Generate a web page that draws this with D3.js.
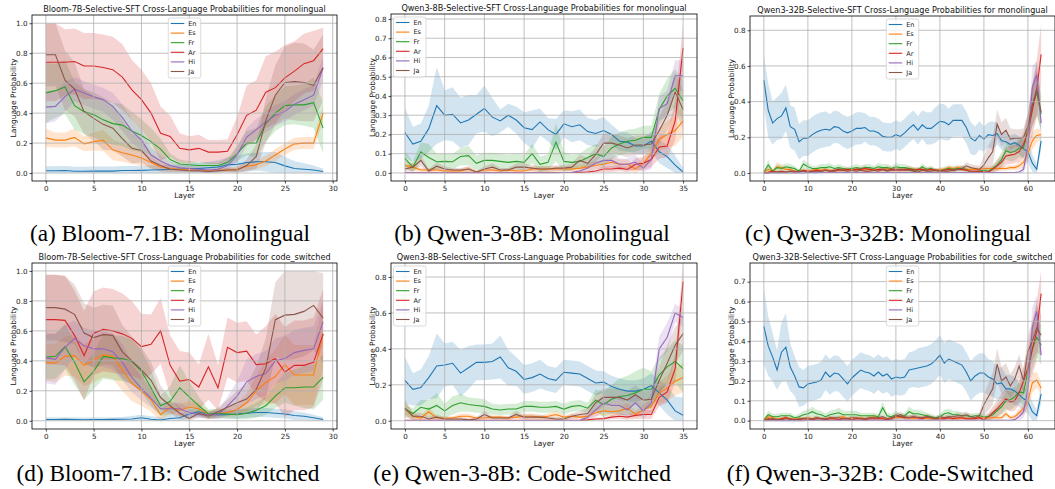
<!DOCTYPE html>
<html><head><meta charset="utf-8">
<script src="https://cdn.jsdelivr.net/npm/d3@7"></script>
<style>body{margin:0;background:#fff;} svg{display:block;}</style>
</head><body>
<script>
// Languages and matplotlib tab10 colours
const languages = ["En", "Es", "Fr", "Ar", "Hi", "Ja"];
const colors = ["#1f77b4", "#ff7f0e", "#2ca02c", "#d62728", "#9467bd", "#8c564b"];

/* ---------- (a) Bloom monolingual, layers 0..29 ---------- */
const bloomMono = [
  [0.015,0.015,0.017,0.012,0.012,0.014,0.013,0.013,0.017,0.017,0.018,0.02,0.022,0.025,0.025,0.03,0.03,0.035,0.04,0.055,0.058,0.07,0.075,0.075,0.07,0.048,0.03,0.025,0.02,0.01],
  [0.235,0.22,0.22,0.238,0.195,0.21,0.218,0.155,0.135,0.12,0.1,0.07,0.04,0.03,0.025,0.02,0.02,0.015,0.02,0.02,0.025,0.045,0.055,0.08,0.12,0.16,0.195,0.2,0.2,0.4],
  [0.535,0.55,0.575,0.45,0.41,0.39,0.355,0.33,0.32,0.28,0.25,0.21,0.16,0.09,0.06,0.055,0.05,0.05,0.05,0.07,0.13,0.2,0.2,0.33,0.4,0.45,0.455,0.455,0.47,0.3],
  [0.74,0.74,0.74,0.745,0.715,0.715,0.705,0.69,0.64,0.555,0.49,0.4,0.265,0.245,0.165,0.155,0.165,0.14,0.14,0.145,0.255,0.385,0.42,0.54,0.57,0.635,0.68,0.73,0.75,0.83],
  [0.44,0.445,0.51,0.56,0.535,0.51,0.49,0.445,0.37,0.28,0.22,0.12,0.08,0.05,0.035,0.03,0.025,0.02,0.025,0.05,0.12,0.24,0.29,0.34,0.385,0.41,0.46,0.49,0.52,0.7],
  [0.79,0.79,0.62,0.56,0.41,0.365,0.325,0.3,0.23,0.165,0.15,0.08,0.05,0.025,0.02,0.015,0.015,0.01,0.015,0.02,0.02,0.05,0.11,0.35,0.52,0.605,0.61,0.605,0.585,0.705]
];
const bloomMonoSd = [
  [0.03,0.03,0.03,0.03,0.03,0.03,0.03,0.03,0.03,0.03,0.03,0.03,0.03,0.03,0.03,0.035,0.04,0.04,0.045,0.05,0.06,0.06,0.06,0.065,0.07,0.06,0.05,0.04,0.03,0.02],
  [0.06,0.05,0.05,0.06,0.05,0.06,0.07,0.07,0.06,0.06,0.05,0.04,0.03,0.02,0.015,0.015,0.015,0.01,0.015,0.015,0.02,0.025,0.03,0.035,0.04,0.04,0.04,0.04,0.04,0.05],
  [0.2,0.18,0.18,0.16,0.15,0.15,0.15,0.14,0.14,0.13,0.11,0.09,0.07,0.04,0.03,0.025,0.02,0.02,0.02,0.03,0.05,0.08,0.1,0.12,0.12,0.13,0.13,0.14,0.17,0.17],
  [0.26,0.26,0.22,0.22,0.22,0.22,0.22,0.22,0.22,0.2,0.2,0.2,0.18,0.14,0.1,0.09,0.09,0.08,0.08,0.08,0.12,0.2,0.2,0.24,0.24,0.22,0.2,0.2,0.2,0.14],
  [0.11,0.1,0.1,0.08,0.08,0.08,0.08,0.09,0.09,0.08,0.07,0.05,0.04,0.03,0.02,0.02,0.02,0.02,0.02,0.03,0.05,0.06,0.07,0.07,0.07,0.07,0.07,0.07,0.07,0.08],
  [0.21,0.21,0.2,0.18,0.15,0.15,0.17,0.15,0.12,0.1,0.08,0.05,0.04,0.02,0.015,0.01,0.01,0.01,0.01,0.015,0.015,0.04,0.08,0.15,0.2,0.24,0.26,0.26,0.24,0.22]
];

/* ---------- (b) Qwen3-8B monolingual, layers 0..35 ---------- */
const qwen8Mono = [
  [0.21,0.15,0.165,0.23,0.35,0.3,0.305,0.26,0.275,0.305,0.335,0.29,0.27,0.3,0.275,0.235,0.225,0.265,0.225,0.2,0.255,0.24,0.25,0.215,0.205,0.22,0.2,0.165,0.16,0.14,0.14,0.165,0.11,0.085,0.04,0.005],
  [0.04,0.03,0.015,0.015,0.015,0.01,0.01,0.01,0.02,0.005,0.015,0.015,0.01,0.015,0.01,0.01,0.02,0.02,0.02,0.02,0.02,0.02,0.025,0.03,0.04,0.045,0.055,0.045,0.045,0.02,0.05,0.1,0.175,0.2,0.22,0.27],
  [0.075,0.03,0.11,0.08,0.058,0.06,0.058,0.085,0.09,0.05,0.065,0.065,0.06,0.055,0.06,0.055,0.1,0.045,0.055,0.16,0.06,0.055,0.06,0.08,0.1,0.085,0.13,0.15,0.165,0.17,0.185,0.185,0.33,0.4,0.44,0.375],
  [0.002,0.002,0.002,0.002,0.002,0.002,0.002,0.002,0.002,0.002,0.002,0.002,0.002,0.002,0.002,0.002,0.002,0.002,0.002,0.002,0.002,0.002,0.003,0.005,0.01,0.02,0.02,0.025,0.018,0.045,0.05,0.07,0.135,0.14,0.27,0.65],
  [0.001,0.001,0.001,0.001,0.001,0.001,0.001,0.001,0.001,0.001,0.001,0.001,0.001,0.001,0.001,0.001,0.001,0.001,0.001,0.001,0.002,0.003,0.01,0.025,0.05,0.065,0.065,0.045,0.045,0.055,0.025,0.07,0.335,0.36,0.505,0.505],
  [0.02,0.03,0.065,0.01,0.035,0.02,0.015,0.015,0.02,0.005,0.02,0.03,0.015,0.015,0.03,0.03,0.025,0.02,0.02,0.025,0.025,0.03,0.065,0.05,0.095,0.155,0.155,0.145,0.13,0.145,0.145,0.15,0.22,0.3,0.42,0.33]
];
const qwen8MonoSd = [
  [0.13,0.09,0.09,0.12,0.2,0.13,0.14,0.13,0.13,0.1,0.12,0.1,0.06,0.06,0.07,0.08,0.1,0.07,0.06,0.08,0.07,0.08,0.08,0.07,0.07,0.07,0.05,0.05,0.05,0.04,0.04,0.05,0.06,0.06,0.05,0.02],
  [0.02,0.02,0.01,0.01,0.01,0.01,0.01,0.01,0.015,0.005,0.01,0.01,0.01,0.01,0.01,0.01,0.015,0.015,0.015,0.015,0.015,0.015,0.015,0.02,0.02,0.02,0.025,0.025,0.025,0.02,0.03,0.04,0.06,0.07,0.08,0.08],
  [0.04,0.03,0.05,0.07,0.04,0.04,0.04,0.045,0.05,0.04,0.04,0.04,0.04,0.04,0.04,0.04,0.05,0.04,0.04,0.1,0.05,0.04,0.04,0.05,0.05,0.05,0.06,0.06,0.06,0.06,0.06,0.06,0.08,0.09,0.1,0.1],
  [0.002,0.002,0.002,0.002,0.002,0.002,0.002,0.002,0.002,0.002,0.002,0.002,0.002,0.002,0.002,0.002,0.002,0.002,0.002,0.002,0.002,0.002,0.003,0.005,0.008,0.015,0.015,0.015,0.015,0.03,0.035,0.04,0.06,0.06,0.1,0.12],
  [0.002,0.002,0.002,0.002,0.002,0.002,0.002,0.002,0.002,0.002,0.002,0.002,0.002,0.002,0.002,0.002,0.002,0.002,0.002,0.002,0.002,0.002,0.01,0.02,0.03,0.04,0.04,0.03,0.03,0.04,0.02,0.05,0.06,0.07,0.08,0.08],
  [0.015,0.02,0.03,0.01,0.02,0.015,0.01,0.01,0.015,0.005,0.015,0.02,0.01,0.01,0.02,0.02,0.015,0.015,0.015,0.015,0.015,0.02,0.03,0.03,0.04,0.05,0.05,0.05,0.05,0.05,0.05,0.05,0.07,0.08,0.1,0.1]
];

/* ---------- (c) Qwen3-32B monolingual, layers 0..63 ---------- */
const qwen32Mono = [
  [0.52,0.35,0.28,0.305,0.32,0.365,0.26,0.245,0.175,0.195,0.195,0.215,0.23,0.24,0.245,0.24,0.26,0.255,0.235,0.225,0.235,0.25,0.25,0.255,0.235,0.235,0.225,0.205,0.2,0.2,0.215,0.205,0.225,0.25,0.27,0.24,0.27,0.25,0.25,0.27,0.29,0.285,0.27,0.295,0.295,0.295,0.255,0.195,0.18,0.21,0.19,0.215,0.21,0.22,0.18,0.175,0.16,0.17,0.155,0.135,0.12,0.055,0.02,0.18],
  [0.005,0.02,0.01,0.035,0.03,0.02,0.02,0.01,0.01,0.015,0.01,0.015,0.02,0.015,0.02,0.015,0.01,0.015,0.02,0.015,0.02,0.015,0.02,0.015,0.02,0.02,0.015,0.02,0.025,0.02,0.015,0.02,0.02,0.025,0.02,0.02,0.015,0.02,0.02,0.015,0.02,0.02,0.03,0.025,0.03,0.025,0.02,0.02,0.02,0.02,0.025,0.025,0.025,0.025,0.025,0.025,0.03,0.03,0.04,0.06,0.11,0.18,0.21,0.215],
  [0.005,0.045,0.01,0.03,0.025,0.035,0.03,0.025,0.01,0.05,0.035,0.025,0.025,0.03,0.03,0.035,0.025,0.03,0.025,0.02,0.025,0.03,0.025,0.03,0.03,0.025,0.035,0.03,0.03,0.025,0.035,0.03,0.03,0.025,0.02,0.015,0.035,0.02,0.025,0.015,0.01,0.02,0.025,0.02,0.025,0.025,0.02,0.005,0.005,0.01,0.015,0.01,0.025,0.045,0.075,0.125,0.115,0.12,0.14,0.14,0.25,0.38,0.45,0.33],
  [0.0,0.005,0.01,0.005,0.01,0.005,0.01,0.01,0.005,0.015,0.01,0.01,0.015,0.01,0.015,0.01,0.015,0.02,0.015,0.02,0.015,0.02,0.02,0.025,0.02,0.015,0.02,0.02,0.015,0.02,0.02,0.015,0.02,0.02,0.015,0.02,0.02,0.015,0.02,0.015,0.01,0.015,0.02,0.015,0.02,0.02,0.015,0.01,0.01,0.01,0.005,0.005,0.02,0.04,0.06,0.095,0.1,0.105,0.12,0.16,0.23,0.35,0.47,0.665],
  [0,0,0,0,0,0,0,0,0,0,0.002,0.002,0.002,0.003,0.003,0.003,0.003,0.003,0.003,0.003,0.003,0.003,0.003,0.003,0.003,0.003,0.003,0.003,0.003,0.003,0.003,0.003,0.003,0.003,0.003,0.003,0.003,0.003,0.003,0.003,0.003,0.003,0.003,0.003,0.003,0.003,0.003,0.003,0.003,0.003,0.003,0.003,0.003,0.003,0.003,0.003,0.003,0.003,0.005,0.02,0.15,0.48,0.55,0.28],
  [0.0,0.0,0.005,0.005,0.005,0.005,0.01,0.005,0.01,0.01,0.005,0.01,0.01,0.01,0.015,0.01,0.01,0.015,0.015,0.01,0.015,0.01,0.015,0.01,0.01,0.015,0.01,0.02,0.01,0.015,0.015,0.02,0.015,0.015,0.01,0.005,0.015,0.01,0.01,0.015,0.015,0.01,0.01,0.015,0.02,0.025,0.04,0.03,0.025,0.02,0.045,0.085,0.12,0.275,0.215,0.24,0.19,0.195,0.195,0.2,0.26,0.38,0.47,0.34]
];
const qwen32MonoSd = [
  [0.14,0.15,0.12,0.12,0.13,0.13,0.12,0.12,0.1,0.1,0.1,0.1,0.1,0.1,0.1,0.09,0.09,0.09,0.09,0.09,0.09,0.09,0.09,0.08,0.08,0.08,0.08,0.08,0.08,0.08,0.08,0.08,0.08,0.08,0.08,0.08,0.08,0.09,0.09,0.1,0.1,0.1,0.09,0.09,0.09,0.09,0.09,0.09,0.08,0.08,0.07,0.07,0.08,0.06,0.05,0.05,0.05,0.05,0.05,0.05,0.06,0.05,0.03,0.05],
  [0.005,0.015,0.01,0.025,0.02,0.015,0.015,0.01,0.01,0.01,0.01,0.01,0.012,0.01,0.012,0.01,0.01,0.01,0.012,0.01,0.012,0.01,0.012,0.01,0.012,0.012,0.01,0.012,0.015,0.012,0.01,0.012,0.012,0.015,0.012,0.012,0.01,0.012,0.012,0.01,0.012,0.012,0.015,0.015,0.015,0.015,0.012,0.012,0.012,0.012,0.012,0.012,0.012,0.012,0.012,0.012,0.015,0.015,0.02,0.03,0.04,0.05,0.04,0.03],
  [0.005,0.03,0.01,0.02,0.015,0.02,0.02,0.015,0.01,0.025,0.02,0.015,0.015,0.02,0.02,0.02,0.015,0.02,0.015,0.015,0.015,0.02,0.015,0.02,0.02,0.015,0.02,0.02,0.02,0.015,0.02,0.02,0.02,0.015,0.015,0.01,0.02,0.015,0.015,0.01,0.01,0.015,0.015,0.015,0.015,0.015,0.015,0.005,0.005,0.01,0.01,0.01,0.02,0.03,0.04,0.05,0.05,0.05,0.05,0.06,0.08,0.12,0.12,0.1],
  [0.002,0.005,0.008,0.005,0.008,0.005,0.008,0.008,0.005,0.01,0.008,0.008,0.01,0.008,0.01,0.008,0.01,0.012,0.01,0.012,0.01,0.012,0.012,0.015,0.012,0.01,0.012,0.012,0.01,0.012,0.012,0.01,0.012,0.012,0.01,0.012,0.012,0.01,0.012,0.01,0.008,0.01,0.012,0.01,0.012,0.012,0.01,0.008,0.008,0.008,0.005,0.005,0.02,0.03,0.04,0.05,0.05,0.05,0.06,0.07,0.1,0.14,0.16,0.17],
  [0.002,0.002,0.002,0.002,0.002,0.002,0.002,0.002,0.002,0.002,0.002,0.002,0.002,0.003,0.003,0.003,0.003,0.003,0.003,0.003,0.003,0.003,0.003,0.003,0.003,0.003,0.003,0.003,0.003,0.003,0.003,0.003,0.003,0.003,0.003,0.003,0.003,0.003,0.003,0.003,0.003,0.003,0.003,0.003,0.003,0.003,0.003,0.003,0.003,0.003,0.003,0.003,0.003,0.003,0.003,0.003,0.003,0.003,0.005,0.02,0.08,0.12,0.08,0.05],
  [0.002,0.002,0.005,0.005,0.005,0.005,0.008,0.005,0.008,0.008,0.005,0.008,0.008,0.008,0.01,0.008,0.008,0.01,0.01,0.008,0.01,0.008,0.01,0.008,0.008,0.01,0.008,0.012,0.008,0.01,0.01,0.012,0.01,0.01,0.008,0.005,0.01,0.008,0.008,0.01,0.01,0.008,0.008,0.01,0.012,0.015,0.02,0.02,0.02,0.02,0.05,0.07,0.08,0.08,0.07,0.07,0.06,0.05,0.05,0.05,0.08,0.12,0.15,0.1]
];

/* ---------- (d) Bloom code-switched, layers 0..29 ---------- */
const bloomCs = [
  [0.008,0.008,0.009,0.008,0.007,0.008,0.008,0.009,0.01,0.012,0.02,0.01,0.005,0.015,0.02,0.045,0.06,0.04,0.04,0.04,0.045,0.05,0.055,0.055,0.05,0.045,0.035,0.03,0.02,0.008],
  [0.39,0.385,0.43,0.435,0.37,0.405,0.44,0.43,0.34,0.25,0.2,0.14,0.04,0.09,0.07,0.09,0.08,0.04,0.05,0.055,0.075,0.12,0.2,0.255,0.295,0.375,0.305,0.305,0.305,0.58],
  [0.425,0.43,0.495,0.39,0.26,0.33,0.43,0.42,0.415,0.395,0.33,0.22,0.1,0.13,0.22,0.16,0.1,0.045,0.05,0.045,0.04,0.05,0.07,0.1,0.165,0.22,0.22,0.225,0.225,0.29],
  [0.675,0.675,0.67,0.57,0.435,0.585,0.61,0.6,0.58,0.55,0.495,0.51,0.6,0.37,0.265,0.275,0.225,0.36,0.22,0.49,0.455,0.465,0.375,0.38,0.415,0.325,0.37,0.37,0.39,0.58],
  [0.42,0.41,0.49,0.55,0.5,0.48,0.48,0.46,0.39,0.29,0.215,0.15,0.08,0.08,0.08,0.055,0.04,0.04,0.04,0.1,0.165,0.26,0.295,0.315,0.4,0.415,0.455,0.47,0.48,0.66],
  [0.755,0.755,0.745,0.71,0.585,0.555,0.575,0.57,0.46,0.4,0.34,0.27,0.155,0.1,0.05,0.015,0.05,0.03,0.06,0.09,0.12,0.145,0.21,0.35,0.675,0.705,0.71,0.73,0.77,0.685]
];
const bloomCsSd = [
  [0.015,0.015,0.015,0.015,0.015,0.015,0.015,0.015,0.015,0.02,0.02,0.02,0.02,0.02,0.025,0.03,0.03,0.025,0.025,0.025,0.03,0.03,0.03,0.03,0.03,0.03,0.03,0.025,0.02,0.015],
  [0.12,0.13,0.13,0.14,0.14,0.15,0.15,0.15,0.14,0.12,0.1,0.08,0.04,0.04,0.04,0.04,0.04,0.03,0.03,0.03,0.04,0.06,0.1,0.15,0.18,0.2,0.2,0.2,0.2,0.22],
  [0.15,0.15,0.15,0.15,0.12,0.12,0.15,0.15,0.15,0.15,0.14,0.12,0.07,0.1,0.15,0.1,0.06,0.03,0.03,0.03,0.03,0.04,0.05,0.06,0.08,0.1,0.12,0.14,0.15,0.15],
  [0.3,0.3,0.3,0.3,0.3,0.28,0.28,0.28,0.27,0.25,0.22,0.2,0.22,0.2,0.2,0.18,0.15,0.22,0.15,0.2,0.2,0.2,0.2,0.25,0.3,0.3,0.3,0.3,0.3,0.3],
  [0.17,0.17,0.15,0.12,0.12,0.12,0.12,0.12,0.12,0.1,0.08,0.06,0.04,0.04,0.04,0.03,0.02,0.02,0.03,0.06,0.1,0.15,0.15,0.15,0.15,0.15,0.15,0.15,0.15,0.15],
  [0.22,0.22,0.22,0.2,0.2,0.2,0.2,0.2,0.18,0.16,0.15,0.12,0.08,0.05,0.04,0.02,0.03,0.02,0.03,0.05,0.08,0.1,0.15,0.2,0.25,0.3,0.3,0.3,0.3,0.3]
];

/* ---------- (e) Qwen3-8B code-switched, layers 0..35 ---------- */
const qwen8Cs = [
  [0.225,0.175,0.185,0.24,0.305,0.31,0.32,0.265,0.295,0.325,0.325,0.33,0.355,0.295,0.275,0.23,0.24,0.26,0.235,0.225,0.27,0.265,0.26,0.235,0.21,0.215,0.19,0.175,0.165,0.165,0.175,0.195,0.155,0.115,0.055,0.03],
  [0.065,0.025,0.015,0.05,0.015,0.015,0.015,0.025,0.025,0.015,0.015,0.02,0.02,0.015,0.02,0.025,0.025,0.02,0.025,0.035,0.02,0.025,0.02,0.025,0.045,0.055,0.05,0.055,0.07,0.035,0.06,0.08,0.155,0.18,0.22,0.24],
  [0.065,0.04,0.075,0.065,0.085,0.055,0.085,0.1,0.09,0.085,0.08,0.065,0.06,0.065,0.065,0.08,0.08,0.075,0.075,0.08,0.065,0.08,0.085,0.07,0.115,0.09,0.12,0.135,0.14,0.155,0.175,0.175,0.255,0.3,0.33,0.29],
  [0.002,0.002,0.002,0.002,0.002,0.002,0.002,0.002,0.002,0.002,0.002,0.002,0.002,0.002,0.002,0.002,0.002,0.002,0.002,0.002,0.002,0.002,0.002,0.005,0.01,0.012,0.02,0.025,0.02,0.03,0.035,0.035,0.13,0.16,0.29,0.775],
  [0.001,0.001,0.001,0.001,0.001,0.001,0.001,0.001,0.001,0.001,0.001,0.001,0.001,0.001,0.001,0.001,0.001,0.001,0.001,0.001,0.001,0.001,0.002,0.02,0.06,0.1,0.085,0.085,0.06,0.1,0.055,0.1,0.4,0.465,0.6,0.575],
  [0.07,0.025,0.025,0.01,0.02,0.01,0.01,0.01,0.005,0.01,0.035,0.015,0.015,0.015,0.035,0.02,0.02,0.02,0.015,0.01,0.01,0.025,0.035,0.04,0.1,0.13,0.13,0.13,0.115,0.145,0.115,0.12,0.225,0.32,0.42,0.485]
];
const qwen8CsSd = [
  [0.13,0.09,0.1,0.12,0.18,0.12,0.12,0.13,0.12,0.1,0.1,0.1,0.12,0.1,0.08,0.08,0.08,0.08,0.07,0.07,0.07,0.07,0.07,0.07,0.07,0.06,0.06,0.06,0.06,0.06,0.06,0.07,0.07,0.08,0.08,0.1],
  [0.04,0.02,0.01,0.03,0.01,0.01,0.01,0.015,0.015,0.01,0.01,0.01,0.01,0.01,0.01,0.015,0.015,0.01,0.015,0.02,0.01,0.015,0.01,0.015,0.02,0.025,0.025,0.025,0.03,0.02,0.03,0.04,0.06,0.07,0.08,0.08],
  [0.03,0.03,0.04,0.05,0.07,0.04,0.05,0.05,0.04,0.04,0.04,0.03,0.03,0.03,0.03,0.03,0.03,0.03,0.03,0.03,0.03,0.03,0.03,0.03,0.06,0.07,0.08,0.1,0.11,0.12,0.12,0.1,0.1,0.1,0.12,0.13],
  [0.002,0.002,0.002,0.002,0.002,0.002,0.002,0.002,0.002,0.002,0.002,0.002,0.002,0.002,0.002,0.002,0.002,0.002,0.002,0.002,0.002,0.002,0.002,0.004,0.006,0.008,0.012,0.015,0.015,0.02,0.025,0.025,0.05,0.06,0.08,0.1],
  [0.002,0.002,0.002,0.002,0.002,0.002,0.002,0.002,0.002,0.002,0.002,0.002,0.002,0.002,0.002,0.002,0.002,0.002,0.002,0.002,0.002,0.002,0.002,0.02,0.04,0.05,0.05,0.05,0.04,0.05,0.04,0.05,0.07,0.08,0.05,0.05],
  [0.05,0.02,0.02,0.01,0.015,0.01,0.01,0.01,0.005,0.01,0.02,0.01,0.01,0.01,0.02,0.015,0.015,0.015,0.01,0.01,0.01,0.015,0.02,0.03,0.05,0.05,0.05,0.05,0.05,0.05,0.05,0.05,0.08,0.1,0.1,0.1]
];

/* ---------- (f) Qwen3-32B code-switched, layers 0..63 ---------- */
const qwen32Cs = [
  [0.475,0.375,0.32,0.255,0.345,0.37,0.27,0.225,0.17,0.165,0.185,0.19,0.195,0.205,0.245,0.22,0.24,0.235,0.21,0.185,0.215,0.235,0.255,0.245,0.24,0.225,0.245,0.225,0.235,0.21,0.22,0.215,0.22,0.255,0.26,0.265,0.27,0.275,0.285,0.305,0.33,0.29,0.31,0.3,0.29,0.28,0.245,0.2,0.225,0.24,0.24,0.22,0.21,0.185,0.19,0.16,0.16,0.15,0.13,0.11,0.095,0.045,0.025,0.135],
  [0.005,0.02,0.015,0.01,0.01,0.015,0.01,0.01,0.01,0.01,0.015,0.01,0.015,0.01,0.01,0.015,0.01,0.015,0.02,0.01,0.015,0.01,0.015,0.01,0.015,0.02,0.015,0.01,0.01,0.015,0.015,0.02,0.015,0.015,0.01,0.015,0.015,0.01,0.01,0.015,0.01,0.015,0.015,0.01,0.01,0.015,0.01,0.01,0.015,0.015,0.015,0.015,0.015,0.015,0.015,0.035,0.015,0.02,0.04,0.06,0.1,0.19,0.205,0.165],
  [0.005,0.03,0.02,0.02,0.025,0.025,0.025,0.015,0.02,0.03,0.035,0.045,0.035,0.03,0.02,0.03,0.035,0.04,0.03,0.03,0.03,0.03,0.025,0.025,0.025,0.025,0.02,0.065,0.025,0.02,0.03,0.02,0.025,0.045,0.035,0.035,0.03,0.025,0.02,0.015,0.02,0.035,0.04,0.03,0.03,0.025,0.025,0.02,0.025,0.025,0.02,0.02,0.03,0.05,0.07,0.1,0.105,0.12,0.145,0.14,0.25,0.36,0.42,0.38],
  [0.0,0.01,0.005,0.005,0.01,0.015,0.005,0.005,0.005,0.01,0.01,0.005,0.01,0.01,0.005,0.01,0.01,0.005,0.01,0.01,0.005,0.01,0.01,0.005,0.01,0.01,0.01,0.01,0.005,0.01,0.025,0.02,0.015,0.015,0.02,0.015,0.01,0.02,0.015,0.01,0.01,0.01,0.015,0.01,0.015,0.015,0.01,0.01,0.01,0.015,0.005,0.02,0.04,0.06,0.085,0.11,0.095,0.1,0.14,0.2,0.265,0.36,0.45,0.64],
  [0,0,0,0,0,0,0,0,0,0,0.002,0.002,0.002,0.002,0.002,0.002,0.002,0.002,0.002,0.002,0.002,0.002,0.002,0.002,0.002,0.002,0.002,0.002,0.002,0.002,0.002,0.002,0.002,0.002,0.002,0.002,0.002,0.002,0.002,0.002,0.002,0.002,0.002,0.002,0.002,0.002,0.002,0.002,0.002,0.002,0.002,0.002,0.002,0.002,0.002,0.002,0.002,0.005,0.02,0.045,0.16,0.47,0.55,0.33],
  [0.0,0.005,0.01,0.005,0.005,0.01,0.01,0.005,0.01,0.01,0.01,0.01,0.015,0.01,0.01,0.015,0.015,0.015,0.01,0.01,0.015,0.015,0.01,0.01,0.015,0.015,0.015,0.02,0.01,0.015,0.02,0.03,0.02,0.015,0.02,0.015,0.015,0.02,0.015,0.01,0.02,0.015,0.02,0.02,0.025,0.025,0.03,0.02,0.015,0.025,0.08,0.12,0.16,0.285,0.2,0.22,0.175,0.21,0.275,0.2,0.35,0.4,0.465,0.43]
];
const qwen32CsSd = [
  [0.19,0.15,0.12,0.1,0.15,0.17,0.12,0.1,0.1,0.09,0.09,0.09,0.09,0.09,0.09,0.09,0.09,0.09,0.09,0.09,0.09,0.09,0.09,0.09,0.09,0.09,0.09,0.09,0.09,0.09,0.09,0.09,0.09,0.09,0.09,0.1,0.1,0.1,0.1,0.1,0.1,0.1,0.1,0.1,0.1,0.1,0.1,0.1,0.1,0.1,0.1,0.09,0.09,0.08,0.08,0.07,0.07,0.07,0.06,0.06,0.06,0.05,0.03,0.05],
  [0.005,0.015,0.01,0.008,0.008,0.01,0.008,0.008,0.008,0.008,0.01,0.008,0.01,0.008,0.008,0.01,0.008,0.01,0.012,0.008,0.01,0.008,0.01,0.008,0.01,0.012,0.01,0.008,0.008,0.01,0.01,0.012,0.01,0.01,0.008,0.01,0.01,0.008,0.008,0.01,0.008,0.01,0.01,0.008,0.008,0.01,0.008,0.008,0.01,0.01,0.01,0.01,0.01,0.01,0.01,0.015,0.01,0.012,0.02,0.03,0.04,0.05,0.04,0.03],
  [0.005,0.02,0.015,0.015,0.015,0.015,0.015,0.01,0.015,0.02,0.02,0.025,0.02,0.02,0.015,0.02,0.02,0.025,0.02,0.02,0.02,0.02,0.015,0.015,0.015,0.015,0.015,0.03,0.015,0.015,0.02,0.015,0.015,0.025,0.02,0.02,0.02,0.015,0.015,0.01,0.015,0.02,0.02,0.02,0.02,0.015,0.015,0.015,0.015,0.015,0.015,0.015,0.02,0.03,0.04,0.05,0.05,0.05,0.05,0.06,0.08,0.1,0.1,0.1],
  [0.002,0.008,0.005,0.005,0.008,0.01,0.005,0.005,0.005,0.008,0.008,0.005,0.008,0.008,0.005,0.008,0.008,0.005,0.008,0.008,0.005,0.008,0.008,0.005,0.008,0.008,0.008,0.008,0.005,0.008,0.015,0.012,0.01,0.01,0.012,0.01,0.008,0.012,0.01,0.008,0.008,0.008,0.01,0.008,0.01,0.01,0.008,0.008,0.008,0.01,0.005,0.02,0.03,0.04,0.05,0.05,0.05,0.05,0.06,0.07,0.1,0.13,0.15,0.12],
  [0.002,0.002,0.002,0.002,0.002,0.002,0.002,0.002,0.002,0.002,0.002,0.002,0.002,0.002,0.002,0.002,0.002,0.002,0.002,0.002,0.002,0.002,0.002,0.002,0.002,0.002,0.002,0.002,0.002,0.002,0.002,0.002,0.002,0.002,0.002,0.002,0.002,0.002,0.002,0.002,0.002,0.002,0.002,0.002,0.002,0.002,0.002,0.002,0.002,0.002,0.002,0.002,0.002,0.002,0.002,0.002,0.002,0.005,0.02,0.03,0.08,0.1,0.08,0.05],
  [0.002,0.005,0.008,0.005,0.005,0.008,0.008,0.005,0.008,0.008,0.008,0.008,0.01,0.008,0.008,0.01,0.01,0.01,0.008,0.008,0.01,0.01,0.008,0.008,0.01,0.01,0.01,0.012,0.008,0.01,0.012,0.015,0.012,0.01,0.012,0.01,0.01,0.012,0.01,0.008,0.012,0.01,0.012,0.012,0.015,0.015,0.015,0.012,0.01,0.015,0.05,0.07,0.08,0.08,0.07,0.07,0.06,0.06,0.06,0.06,0.08,0.1,0.12,0.1]
];

const bloomXTicks = [0, 5, 10, 15, 20, 25, 30];
const qwen8XTicks = [0, 5, 10, 15, 20, 25, 30, 35];
const qwen32XTicks = [0, 10, 20, 30, 40, 50, 60];

/*  ----- panel layout ----- */
const panels = [
  {mean: bloomMono, sd: bloomMonoSd, title: "Bloom-7B-Selective-SFT Cross-Language Probabilities for monolingual",
   caption: "(a) Bloom-7.1B: Monolingual", capX: 170, capY: 241,
   left: 32, right: 337, top: 15, bottom: 181, y: [-0.053, 1.055],
   yTicks: [0, 0.2, 0.4, 0.6, 0.8, 1.0], xTicks: bloomXTicks, legend: "center"},
  {mean: qwen8Mono, sd: qwen8MonoSd, title: "Qwen3-8B-Selective-SFT Cross-Language Probabilities for monolingual",
   caption: "(b) Qwen-3-8B: Monolingual", capX: 532, capY: 241,
   left: 391, right: 697, top: 14, bottom: 181, y: [-0.042, 0.826],
   yTicks: [0, 0.1, 0.2, 0.3, 0.4, 0.5, 0.6, 0.7, 0.8], xTicks: qwen8XTicks, legend: "left"},
  {mean: qwen32Mono, sd: qwen32MonoSd, title: "Qwen3-32B-Selective-SFT Cross-Language Probabilities for monolingual",
   caption: "(c) Qwen-3-32B: Monolingual", capX: 888, capY: 241,
   left: 750, right: 1055, top: 16, bottom: 181, y: [-0.045, 0.88],
   yTicks: [0, 0.2, 0.4, 0.6, 0.8], xTicks: qwen32XTicks, legend: "center"},
  {mean: bloomCs, sd: bloomCsSd, title: "Bloom-7B-Selective-SFT Cross-Language Probabilities for code_switched",
   caption: "(d) Bloom-7.1B: Code Switched", capX: 168, capY: 481,
   left: 32, right: 337, top: 263, bottom: 429, y: [-0.055, 1.053],
   yTicks: [0, 0.2, 0.4, 0.6, 0.8, 1.0], xTicks: bloomXTicks, legend: "center"},
  {mean: qwen8Cs, sd: qwen8CsSd, title: "Qwen3-8B-Selective-SFT Cross-Language Probabilities for code_switched",
   caption: "(e) Qwen-3-8B: Code-Switched", capX: 522, capY: 481,
   left: 391, right: 697, top: 263, bottom: 429, y: [-0.046, 0.878],
   yTicks: [0, 0.2, 0.4, 0.6, 0.8], xTicks: qwen8XTicks, legend: "left"},
  {mean: qwen32Cs, sd: qwen32CsSd, title: "Qwen3-32B-Selective-SFT Cross-Language Probabilities for code_switched",
   caption: "(f) Qwen-3-32B: Code-Switched", capX: 880, capY: 481,
   left: 750, right: 1055, top: 263, bottom: 429, y: [-0.042, 0.794],
   yTicks: [0, 0.1, 0.2, 0.3, 0.4, 0.5, 0.6, 0.7], xTicks: qwen32XTicks, legend: "center"}
];

const W = 1055, H = 489;
const font = "'DejaVu Sans', sans-serif";
const svg = d3.select("body").append("svg").attr("width", W).attr("height", H);

panels.forEach(function (p, pi) {
  const last = p.mean[0].length - 1;
  const x = d3.scaleLinear().domain([-0.05 * last, last * 1.05]).range([p.left, p.right]);
  const y = d3.scaleLinear().domain(p.y).range([p.bottom, p.top]);
  const g = svg.append("g");

  const clipId = "clip" + pi;
  g.append("clipPath").attr("id", clipId)
    .append("rect").attr("x", p.left).attr("y", p.top)
    .attr("width", p.right - p.left).attr("height", p.bottom - p.top);
  const plot = g.append("g").attr("clip-path", "url(#" + clipId + ")");

  // Bands first (below grid and lines)
  const area = d3.area()
    .x(function (d, i) { return x(i); })
    .y0(function (d) { return y(Math.max(0, d[0] - d[1])); })
    .y1(function (d) { return y(Math.min(1, d[0] + d[1])); });
  p.mean.forEach(function (series, k) {
    const pts = series.map(function (v, i) { return [v, p.sd[k][i]]; });
    plot.append("path").attr("d", area(pts))
      .attr("fill", colors[k]).attr("fill-opacity", 0.2).attr("stroke", "none");
  });

  // Grid
  const grid = g.append("g").attr("stroke", "#b0b0b0").attr("stroke-width", 0.8);
  p.xTicks.forEach(function (t) {
    grid.append("line").attr("x1", x(t)).attr("x2", x(t)).attr("y1", p.top).attr("y2", p.bottom);
  });
  p.yTicks.forEach(function (t) {
    grid.append("line").attr("x1", p.left).attr("x2", p.right).attr("y1", y(t)).attr("y2", y(t));
  });

  // Mean lines
  const line = d3.line().x(function (d, i) { return x(i); }).y(function (d) { return y(d); });
  p.mean.forEach(function (series, k) {
    plot.append("path").attr("d", line(series))
      .attr("fill", "none").attr("stroke", colors[k]).attr("stroke-width", 1.1);
  });

  // Axes
  const xAxis = d3.axisBottom(x).tickValues(p.xTicks).tickSize(2.5).tickPadding(2).tickFormat(d3.format("d"));
  const yAxis = d3.axisLeft(y).tickValues(p.yTicks).tickSize(2.5).tickPadding(2).tickFormat(d3.format(".1f"));
  [g.append("g").attr("transform", "translate(0," + p.bottom + ")").call(xAxis),
   g.append("g").attr("transform", "translate(" + p.left + ",0)").call(yAxis)].forEach(function (ax) {
    ax.select(".domain").remove();
    ax.selectAll("line").attr("stroke", "#000").attr("stroke-width", 0.7);
    ax.selectAll("text").attr("font-family", font).attr("font-size", 7.2).attr("fill", "#222");
  });

  // Frame
  g.append("rect").attr("x", p.left).attr("y", p.top)
    .attr("width", p.right - p.left).attr("height", p.bottom - p.top)
    .attr("fill", "none").attr("stroke", "#000").attr("stroke-width", 0.8);

  // Title and axis labels
  g.append("text").attr("x", (p.left + p.right) / 2).attr("y", p.top - 3)
    .attr("text-anchor", "middle").attr("font-family", font).attr("font-size", 8.1).attr("fill", "#111")
    .text(p.title);
  g.append("text").attr("x", (p.left + p.right) / 2).attr("y", p.bottom + 16.5)
    .attr("text-anchor", "middle").attr("font-family", font).attr("font-size", 7.4).attr("fill", "#111")
    .text("Layer");
  const ly = (p.top + p.bottom) / 2, lx = p.left - 18.5;
  g.append("text").attr("transform", "translate(" + lx + "," + ly + ") rotate(-90)")
    .attr("text-anchor", "middle").attr("dy", "0.35em")
    .attr("font-family", font).attr("font-size", 7.5).attr("fill", "#111")
    .text("Language Probability");

  // Legend
  const lw = 32.5, lh = 60;
  const lx0 = p.legend === "left" ? p.left + 2.5 : (p.left + p.right) / 2 - lw / 2;
  const ly0 = p.top + 3;
  const leg = g.append("g").attr("transform", "translate(" + lx0 + "," + ly0 + ")");
  leg.append("rect").attr("width", lw).attr("height", lh).attr("rx", 2)
    .attr("fill", "#fff").attr("fill-opacity", 0.8).attr("stroke", "#cccccc").attr("stroke-width", 0.7);
  languages.forEach(function (name, k) {
    const cy = 5.5 + k * 9.6;
    leg.append("line").attr("x1", 2.5).attr("x2", 16).attr("y1", cy).attr("y2", cy)
      .attr("stroke", colors[k]).attr("stroke-width", 1.1);
    leg.append("text").attr("x", 20).attr("y", cy).attr("dy", "0.35em")
      .attr("font-family", font).attr("font-size", 6.5).attr("fill", "#222").text(name);
  });

  // Caption under the subfigure
  svg.append("text").attr("x", p.capX).attr("y", p.capY).attr("text-anchor", "middle")
    .attr("font-family", "'Liberation Serif', 'Times New Roman', serif").attr("font-size", 23.3)
    .attr("fill", "#000").text(p.caption);
});
</script>
</body></html>
